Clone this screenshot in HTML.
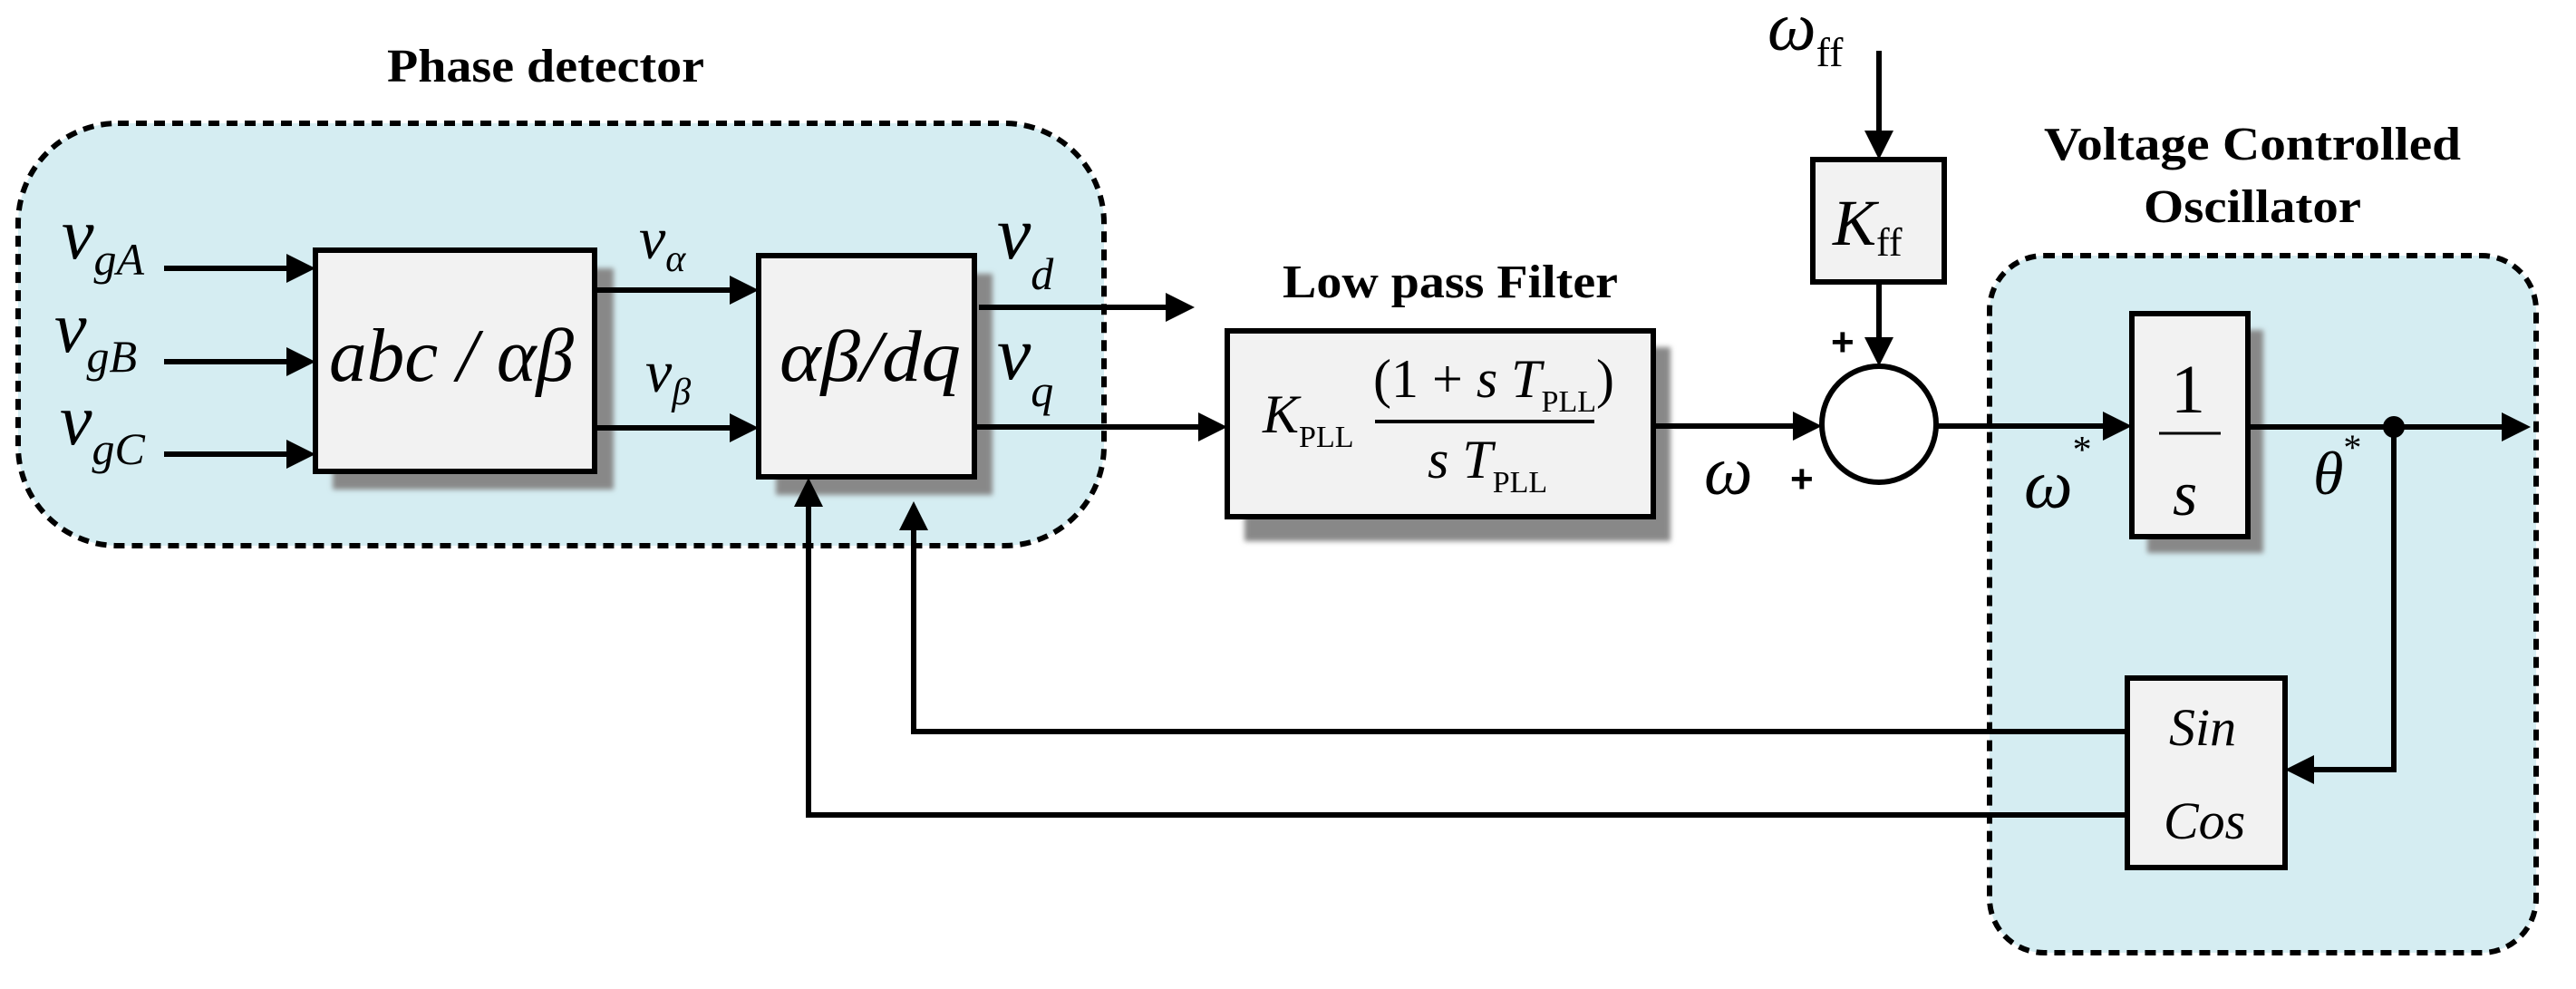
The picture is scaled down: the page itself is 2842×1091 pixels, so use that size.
<!DOCTYPE html>
<html><head><meta charset="utf-8"><style>html,body{margin:0;padding:0;background:#fff}svg{display:block}</style></head>
<body>
<svg width="2842" height="1091" viewBox="0 0 2842 1091" xmlns="http://www.w3.org/2000/svg" font-family="'Liberation Serif',serif">
<defs>
<marker id="a" viewBox="0 0 10 10" refX="10" refY="5" markerWidth="6" markerHeight="6" orient="auto" markerUnits="userSpaceOnUse" style="overflow:visible">
</marker>
<filter id="sh" x="-10%" y="-10%" width="130%" height="130%"><feGaussianBlur stdDeviation="3"/></filter>
</defs>
<!-- dashed groups -->
<rect x="20" y="136" width="1198" height="466" rx="110" fill="#d5edf2" stroke="#000" stroke-width="6" stroke-dasharray="12 8"/>
<rect x="2195" y="282" width="603" height="769" rx="60" fill="#d5edf2" stroke="#000" stroke-width="6" stroke-dasharray="12 8"/>
<g font-weight="bold" font-size="52" text-anchor="middle">
<text x="602" y="90" textLength="350" lengthAdjust="spacingAndGlyphs">Phase detector</text>
<text x="1600" y="328" textLength="370" lengthAdjust="spacingAndGlyphs">Low pass Filter</text>
<text x="2485" y="176" textLength="460" lengthAdjust="spacingAndGlyphs">Voltage Controlled</text>
<text x="2485" y="245" textLength="240" lengthAdjust="spacingAndGlyphs">Oscillator</text>
</g>
<!-- shadows -->
<g fill="#888" filter="url(#sh)">
<rect x="367" y="296" width="310" height="244"/>
<rect x="856" y="302" width="239" height="244"/>
<rect x="1373" y="383" width="470" height="214"/>
<rect x="2369" y="364" width="128" height="246"/>
</g>
<!-- boxes -->
<g fill="#f2f2f2" stroke="#000" stroke-width="6">
<rect x="348" y="276" width="308" height="244"/>
<rect x="837" y="282" width="238" height="244"/>
<rect x="1354" y="365" width="470" height="205"/>
<rect x="2000" y="176" width="145" height="135"/>
<rect x="2352" y="346" width="128" height="246"/>
<rect x="2347" y="748" width="174" height="209"/>
</g>
<ellipse cx="2073" cy="468" rx="63" ry="64" fill="#fff" stroke="#000" stroke-width="6"/>
<!-- lines -->
<g stroke="#000" stroke-width="6" fill="none">
<line x1="181" y1="296" x2="320" y2="296"/>
<line x1="181" y1="399" x2="320" y2="399"/>
<line x1="181" y1="501" x2="320" y2="501"/>
<line x1="657" y1="320" x2="808" y2="320"/>
<line x1="657" y1="472" x2="808" y2="472"/>
<line x1="1080" y1="339" x2="1290" y2="339"/>
<line x1="1075" y1="471" x2="1326" y2="471"/>
<line x1="1824" y1="470" x2="1981" y2="470"/>
<line x1="2073" y1="56" x2="2073" y2="148"/>
<line x1="2073" y1="311" x2="2073" y2="374"/>
<line x1="2136" y1="470" x2="2324" y2="470"/>
<line x1="2480" y1="471" x2="2762" y2="471"/>
<polyline points="2641,471 2641,849 2549,849"/>
<polyline points="2347,807 1008,807 1008,580"/>
<polyline points="2347,899 892,899 892,555"/>
<line x1="1517" y1="465" x2="1759" y2="465" stroke-width="4"/>
<line x1="2382" y1="478" x2="2450" y2="478" stroke-width="3"/>
</g>
<!-- arrowheads -->
<g fill="#000">
<polygon points="348,296 316,280 316,312"/>
<polygon points="348,399 316,383 316,415"/>
<polygon points="348,501 316,485 316,517"/>
<polygon points="837,320 805,304 805,336"/>
<polygon points="837,472 805,456 805,488"/>
<polygon points="1318,339 1286,323 1286,355"/>
<polygon points="1354,471 1322,455 1322,487"/>
<polygon points="2010,470 1978,454 1978,486"/>
<polygon points="2073,176 2057,144 2089,144"/>
<polygon points="2073,404 2057,372 2089,372"/>
<polygon points="2352,470 2320,454 2320,486"/>
<polygon points="2792,471 2760,455 2760,487"/>
<polygon points="2521,849 2553,833 2553,865"/>
<polygon points="1008,553 992,585 1024,585"/>
<polygon points="892,527 876,559 908,559"/>
<circle cx="2641" cy="471" r="12"/>
</g>
<!-- labels -->
<g font-style="italic" font-size="80">
<text x="68" y="285">v<tspan font-size="50" dy="18">gA</tspan></text>
<text x="60" y="388">v<tspan font-size="50" dy="22">gB</tspan></text>
<text x="66" y="490">v<tspan font-size="50" dy="22">gC</tspan></text>
<text x="363" y="420" font-size="84" textLength="270" lengthAdjust="spacingAndGlyphs">abc / αβ</text>
<text x="860" y="420" font-size="80" textLength="200" lengthAdjust="spacingAndGlyphs">αβ/dq</text>
<text x="705" y="285" font-size="66">v<tspan font-size="42" dy="14">α</tspan></text>
<text x="712" y="432" font-size="66">v<tspan font-size="42" dy="14">β</tspan></text>
<text x="1100" y="285" font-size="84">v<tspan font-size="50" dy="34">d</tspan></text>
<text x="1100" y="418" font-size="84">v<tspan font-size="50" dy="30">q</tspan></text>
<text x="1393" y="477" font-size="60">K<tspan font-style="normal" font-size="34" dy="16">PLL</tspan></text>
<text x="1515" y="438" font-size="60"><tspan font-style="normal">(1 + </tspan>s T<tspan font-style="normal" font-size="34" dy="16">PLL</tspan><tspan font-style="normal" dy="-16">)</tspan></text>
<text x="1575" y="527" font-size="60">s T<tspan font-style="normal" font-size="34" dy="16">PLL</tspan></text>
<text x="1880" y="545" font-size="76">ω</text>
<text x="1950" y="55" font-size="76">ω<tspan font-style="normal" font-size="46" dy="18">ff</tspan></text>
<text x="2022" y="270" font-size="72">K<tspan font-style="normal" font-size="44" dy="12">ff</tspan></text>
<text x="2233" y="560" font-size="76">ω<tspan font-style="normal" font-size="42" dy="-50">*</tspan></text>
<text x="2552" y="545" font-size="68">θ<tspan font-style="normal" font-size="40" dy="-38">*</tspan></text>
<text x="2395" y="455" font-size="76" font-style="normal">1</text>
<text x="2397" y="568" font-size="70">s</text>
<text x="2393" y="822" font-size="58">Sin</text>
<text x="2387" y="925" font-size="58">Cos</text>
</g>
<g font-family="'Liberation Sans',sans-serif" font-weight="bold" font-size="44">
<text x="2020" y="392">+</text>
<text x="1975" y="543">+</text>
</g>
</svg>
</body></html>
